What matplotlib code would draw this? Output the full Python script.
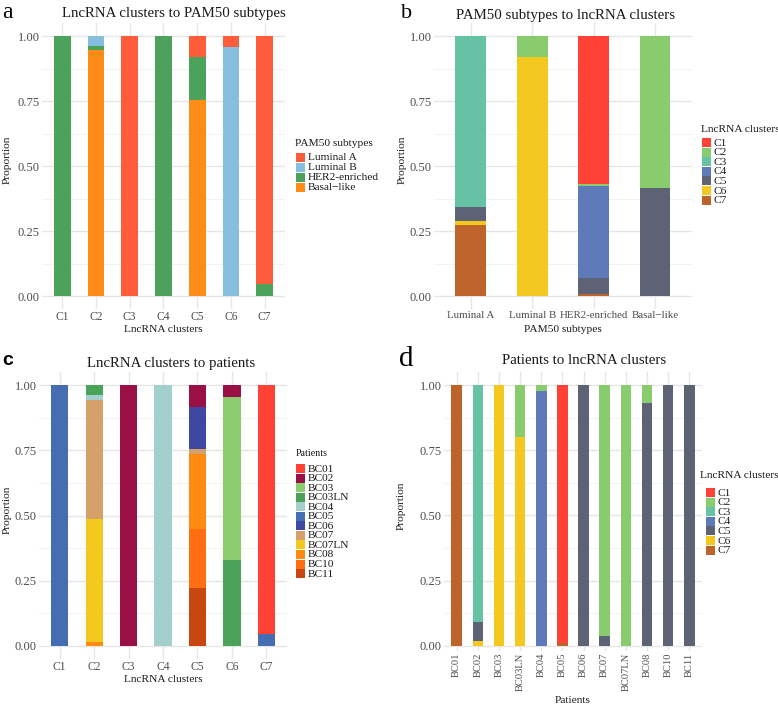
"""Stacked proportion bar charts: lncRNA clusters vs PAM50 subtypes and patients."""
import matplotlib
matplotlib.use('Agg')
import matplotlib.pyplot as plt
from matplotlib.patches import Rectangle
import numpy as np

plt.rcParams['font.family'] = ['Liberation Serif', 'DejaVu Serif']

# Panel a: lncRNA clusters to PAM50 subtypes
A_CATS = ['C1', 'C2', 'C3', 'C4', 'C5', 'C6', 'C7']
A_SERIES = ['Luminal A', 'Luminal B', 'HER2-enriched', 'Basal\u2212like']
A_LUMA = [0, 0, 1, 0, 0.082, 0.043, 0.954]
A_LUMB = [0, 0.037, 0, 0, 0, 0.957, 0]
A_HER2 = [1, 0.017, 0, 1, 0.163, 0, 0.046]
A_BASAL = [0, 0.946, 0, 0, 0.755, 0, 0]
A_COLORS = ['#FF5C3B', '#86BFDD', '#4CA25A', '#FF8C19']

# Panel b: PAM50 subtypes to lncRNA clusters
B_CATS = ['Luminal A', 'Luminal B', 'HER2-enriched', 'Basal\u2212like']
CLUSTERS = ['C1', 'C2', 'C3', 'C4', 'C5', 'C6', 'C7']
B_C1 = [0, 0, 0.570, 0]
B_C2 = [0, 0.080, 0.008, 0.585]
B_C3 = [0.658, 0, 0, 0]
B_C4 = [0, 0, 0.353, 0]
B_C5 = [0.055, 0, 0.062, 0.415]
B_C6 = [0.013, 0.920, 0, 0]
B_C7 = [0.274, 0, 0.007, 0]
CLUSTER_COLORS = ['#FF4136', '#88CC6E', '#66C2A5', '#5F7AB8', '#5E6275',
                  '#F3C81F', '#BE6329']

# Panel c: lncRNA clusters to patients
C_CATS = ['C1', 'C2', 'C3', 'C4', 'C5', 'C6', 'C7']
PATIENTS = ['BC01', 'BC02', 'BC03', 'BC03LN', 'BC04', 'BC05', 'BC06', 'BC07',
            'BC07LN', 'BC08', 'BC10', 'BC11']
C_BC01 = [0, 0, 0, 0, 0, 0, 0.954]
C_BC02 = [0, 0, 1, 0, 0.083, 0.044, 0]
C_BC03 = [0, 0, 0, 0, 0, 0.625, 0]
C_BC03LN = [0, 0.037, 0, 0, 0, 0.331, 0]
C_BC04 = [0, 0.019, 0, 1, 0, 0, 0]
C_BC05 = [1, 0, 0, 0, 0, 0, 0.046]
C_BC06 = [0, 0, 0, 0, 0.164, 0, 0]
C_BC07 = [0, 0.456, 0, 0, 0.019, 0, 0]
C_BC07LN = [0, 0.472, 0, 0, 0, 0, 0]
C_BC08 = [0, 0.016, 0, 0, 0.287, 0, 0]
C_BC10 = [0, 0, 0, 0, 0.224, 0, 0]
C_BC11 = [0, 0, 0, 0, 0.223, 0, 0]
PATIENT_COLORS = ['#FF4136', '#9A1046', '#8ACC6E', '#4BA35A', '#A3CFCC',
                  '#456DB2', '#3E48A0', '#D5A06A', '#F3C81F', '#FF8B12',
                  '#FF6E12', '#C8460F']

# Panel d: patients to lncRNA clusters
D_CATS = PATIENTS
D_C1 = [0, 0, 0, 0, 0, 0.988, 0, 0, 0, 0, 0, 0]
D_C2 = [0, 0, 0, 0.200, 0.021, 0, 0, 0.962, 1, 0.067, 0, 0]
D_C3 = [0, 0.907, 0, 0, 0, 0, 0, 0, 0, 0, 0, 0]
D_C4 = [0, 0, 0, 0, 0.979, 0, 0, 0, 0, 0, 0, 0]
D_C5 = [0, 0.076, 0, 0, 0, 0, 1, 0.038, 0, 0.933, 1, 1]
D_C6 = [0, 0.017, 1, 0.800, 0, 0, 0, 0, 0, 0, 0, 0]
D_C7 = [1, 0, 0, 0, 0, 0.012, 0, 0, 0, 0, 0, 0]

W, H = 778, 705
TXT = '#1A1A1A'
TICK = '#4D4D4D'

fig = plt.figure(figsize=(W / 100, H / 100), dpi=100)


def px_axes(left, top, right, bottom):
    """ Add axes given pixel edges (top-left origin).
    """
    return fig.add_axes([left / W, 1 - bottom / H, (right - left) / W,
                         (bottom - top) / H])


def stacked(ax, cats, series, colors, ylo=-0.05, xsize=8.3):
    """ Draw stacked bars; first series ends up on top (ggplot style).
    """
    x = np.arange(len(cats))
    bottom = np.zeros(len(cats))
    for vals, col in reversed(list(zip(series, colors))):
        vals = np.asarray(vals, dtype=float)
        ax.bar(x, vals, 0.5, bottom=bottom, color=col, linewidth=0, zorder=2)
        bottom += vals

    ax.set_xlim(-0.6, len(cats) - 0.4)
    ax.set_ylim(ylo, 1.05)
    ax.set_xticks(x)
    ax.set_xticklabels(cats)
    ax.set_yticks([0, 0.25, 0.5, 0.75, 1.0])
    ax.set_yticklabels(['0.00', '0.25', '0.50', '0.75', '1.00'])
    ax.set_yticks([0.125, 0.375, 0.625, 0.875], minor=True)

    # ggplot minimal look
    ax.grid(True, which='major', color='#E6E6E6', linewidth=1.0, zorder=0)
    ax.grid(True, which='minor', axis='y', color='#F0F0F0', linewidth=0.6,
            zorder=0)
    ax.set_axisbelow(True)
    for sp in ax.spines.values():
        sp.set_visible(False)
    ax.tick_params(which='both', length=0, colors=TICK)
    ax.tick_params(axis='x', pad=1.5, labelsize=xsize)
    ax.tick_params(axis='y', pad=1.5, labelsize=9)


def add_legend(x_title, y_title, title, x_key, y_first, step, labels, colors,
               fs_title=8.2, fs=8.2, key=9.0):
    """ Legend drawn in figure pixel coordinates.
    """
    fig.text(x_title / W, 1 - y_title / H, title, ha='left', va='center',
             fontsize=fs_title, color=TXT)
    for i, (lab, col) in enumerate(zip(labels, colors)):
        top = y_first + i * step
        fig.add_artist(Rectangle((x_key / W, 1 - (top + key) / H), key / W,
                                 key / H, facecolor=col, edgecolor='none',
                                 transform=fig.transFigure))
        fig.text((x_key + key + 3) / W, 1 - (top + key / 2 + 0.5) / H, lab,
                 ha='left', va='center', fontsize=fs, color=TXT)


def labels(ax, xlab, ylab_x, xlab_y):
    ax.set_xlabel(xlab, fontsize=8.2, color=TXT)
    ax.set_ylabel('Proportion', fontsize=8.2, color=TXT)
    ax.xaxis.set_label_coords(0.5, xlab_y)
    ax.yaxis.set_label_coords(ylab_x, 0.52)


# Panel a
ax_a = px_axes(42, 23, 285, 309)
stacked(ax_a, A_CATS, [A_LUMA, A_LUMB, A_HER2, A_BASAL], A_COLORS)
labels(ax_a, 'LncRNA clusters', -0.125, -0.055)
add_legend(295, 143, 'PAM50 subtypes', 296, 153, 10, A_SERIES, A_COLORS)
fig.text(174 / W, 1 - 14 / H, 'LncRNA clusters to PAM50 subtypes',
         ha='center', va='center', fontsize=10.7, color=TXT)
fig.text(2 / W, 1 - 18 / H, 'a', fontsize=17, va='baseline', color='black')

# Panel b
ax_b = px_axes(434, 23, 692, 309)
stacked(ax_b, B_CATS, [B_C1, B_C2, B_C3, B_C4, B_C5, B_C6, B_C7],
        CLUSTER_COLORS, xsize=7.8)
labels(ax_b, 'PAM50 subtypes', -0.104, -0.055)
add_legend(701, 130, 'LncRNA clusters', 702, 138, 9.6, CLUSTERS,
           CLUSTER_COLORS)
fig.text(565 / W, 1 - 15 / H, 'PAM50 subtypes to lncRNA clusters',
         ha='center', va='center', fontsize=10.7, color=TXT)
fig.text(401 / W, 1 - 18 / H, 'b', fontsize=16, va='baseline', color='black')

# Panel c
ax_c = px_axes(39, 372, 287, 659)
stacked(ax_c, C_CATS,
        [C_BC01, C_BC02, C_BC03, C_BC03LN, C_BC04, C_BC05, C_BC06, C_BC07,
         C_BC07LN, C_BC08, C_BC10, C_BC11], PATIENT_COLORS)
labels(ax_c, 'LncRNA clusters', -0.109, -0.055)
add_legend(296, 453, 'Patients', 296, 464, 9.55, PATIENTS, PATIENT_COLORS,
           fs_title=7.2)
fig.text(171 / W, 1 - 363 / H, 'LncRNA clusters to patients',
         ha='center', va='center', fontsize=10.7, color=TXT)
fig.text(2 / W, 1 - 365 / H, 'c', fontsize=14, va='baseline',
         fontweight='bold', family='Liberation Sans', color='black')

# Panel d
ax_d = px_axes(444, 372, 702, 651)
stacked(ax_d, D_CATS, [D_C1, D_C2, D_C3, D_C4, D_C5, D_C6, D_C7],
        CLUSTER_COLORS, ylo=-0.02, xsize=7.6)
ax_d.tick_params(axis='x', labelrotation=90, pad=1.0)
labels(ax_d, 'Patients', -0.147, -0.16)
add_legend(700, 476, 'LncRNA clusters', 706, 488, 9.6, CLUSTERS,
           CLUSTER_COLORS)
fig.text(584 / W, 1 - 361 / H, 'Patients to lncRNA clusters',
         ha='center', va='center', fontsize=10.7, color=TXT)
fig.text(399 / W, 1 - 366 / H, 'd', fontsize=21, va='baseline', color='black')

fig.savefig('out.png', dpi=100, facecolor='white')
